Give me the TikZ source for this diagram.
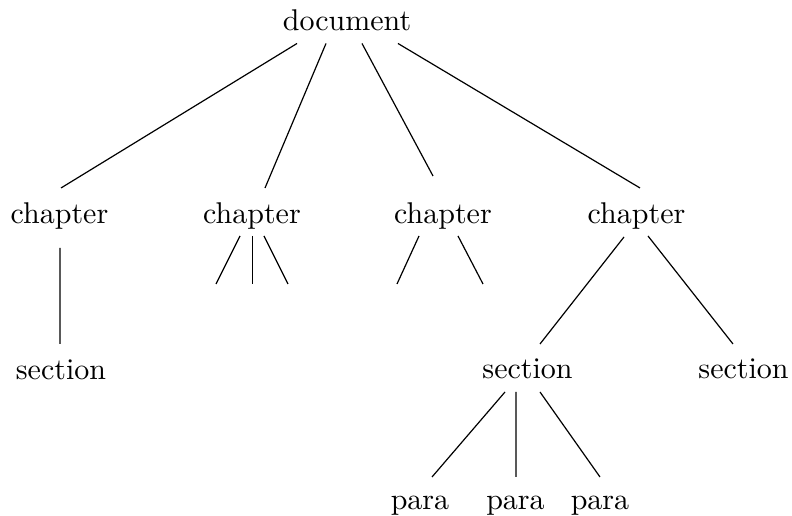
\documentclass[tikz,border=0pt]{standalone}
\begin{document}
% one unit = one third of a point; y grows downwards
\begin{tikzpicture}[x=0.33333pt, y=-0.33333pt,
  word/.style={inner sep=0pt, anchor=base, font=\fontsize{10}{12}\selectfont},
  edge/.style={line width=0.4pt}]
\useasboundingbox (0,0) rectangle (792,516);

% tree labels (placed on their baselines)
\node[word] (doc) at (347,31) {document};
\node[word] (ch1) at (59.5,224) {chapter};
\node[word] (ch2) at (252,224) {chapter};
\node[word] (ch3) at (443,224) {chapter};
\node[word] (ch4) at (636.5,224) {chapter};
\node[word] (sec1) at (61,380) {section};
\node[word] (sec2) at (527.5,379) {section};
\node[word] (sec3) at (743.5,379) {section};
\node[word] (par1) at (420,510) {para};
\node[word] (par2) at (515.5,510) {para};
\node[word] (par3) at (600,510) {para};

% open ends of the unfinished branches
\coordinate (s2a) at (216,284);
\coordinate (s2b) at (252.7,284);
\coordinate (s2c) at (288,284);
\coordinate (s3a) at (397,284);
\coordinate (s3b) at (483,284);

% document -> chapters
\draw[edge] ([shift={(-50,12.5)}]doc.base) -- ([shift={(1.5,-36)}]ch1.base);
\draw[edge] ([shift={(-21,12.5)}]doc.base) -- ([shift={(13,-36)}]ch2.base);
\draw[edge] ([shift={(15,12.5)}]doc.base) -- ([shift={(-10,-48)}]ch3.base);
\draw[edge] ([shift={(51,12.5)}]doc.base) -- ([shift={(3.5,-36)}]ch4.base);

% chapters -> sections
\draw[edge] ([shift={(0.5,24)}]ch1.base) -- ([shift={(-1,-36)}]sec1.base);
\draw[edge] ([shift={(-12.5,13)}]ch4.base) -- ([shift={(12.5,-35)}]sec2.base);
\draw[edge] ([shift={(11.5,12)}]ch4.base) -- ([shift={(-10.5,-35)}]sec3.base);

% unfinished branches
\draw[edge] ([shift={(-12,12)}]ch2.base) -- (s2a);
\draw[edge] ([shift={(0.7,12)}]ch2.base) -- (s2b);
\draw[edge] ([shift={(12,12)}]ch2.base) -- (s2c);
\draw[edge] ([shift={(-24,12)}]ch3.base) -- (s3a);
\draw[edge] ([shift={(15,12)}]ch3.base) -- (s3b);

% section -> paragraphs
\draw[edge] ([shift={(-22.5,13)}]sec2.base) -- ([shift={(12,-33)}]par1.base);
\draw[edge] ([shift={(-11.5,13)}]sec2.base) -- ([shift={(0.5,-33)}]par2.base);
\draw[edge] ([shift={(12.5,13)}]sec2.base) -- ([shift={(0,-33)}]par3.base);
\end{tikzpicture}
\end{document}
